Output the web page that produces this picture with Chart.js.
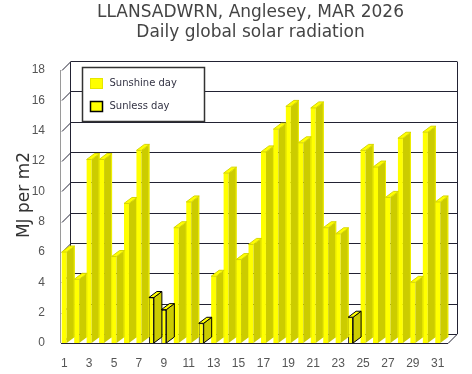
<!DOCTYPE html>
<html>
<head>
<meta charset="utf-8">
<script src="https://cdn.jsdelivr.net/npm/chart.js@4.4.1/dist/chart.umd.min.js"></script>
<style>
  html, body { margin: 0; padding: 0; background: #fff; }
</style>
</head>
<body>
<canvas id="chart" width="472" height="374"></canvas>
<script>
// Tage im März
const days = ['1', '2', '3', '4', '5', '6', '7', '8', '9', '10', '11', '12', '13', '14', '15', '16',
              '17', '18', '19', '20', '21', '22', '23', '24', '25', '26', '27', '28', '29', '30', '31'];
// Tägliche Globalstrahlung in MJ/m2
const radiation = [6.0, 4.2, 12.1, 12.1, 5.7, 9.2, 12.7, 3.0, 2.2, 7.6, 9.3, 1.3, 4.4, 11.2, 5.5, 6.5,
                   12.6, 14.1, 15.6, 13.2, 15.5, 7.6, 7.2, 1.7, 12.7, 11.6, 9.6, 13.5, 4.0, 13.9, 9.3];
// Tage ohne Sonnenschein
const sunlessDays = [8, 9, 12, 24];
const yTicks = [0, 2, 4, 6, 8, 10, 12, 14, 16, 18];
const titleLines = ['LLANSADWRN, Anglesey, MAR 2026', 'Daily global solar radiation'];
const yTitle = 'MJ per m2';

const sunshineData = radiation.map((v, i) => sunlessDays.includes(i + 1) ? null : v);
const sunlessData = radiation.map((v, i) => sunlessDays.includes(i + 1) ? v : null);

const DX = 9, DY = 9;     // Tiefe der Rückwand
const BDX = 8, BDY = 6;   // Tiefe der Balken
const SHIFT = 4;          // Vorderkante gegenüber chartArea

// 3D-Rahmen, Seitenflächen, Titel und Legende
const frame3d = {
    id: 'frame3d',
    beforeDatasetsDraw(chart) {
        const { ctx, chartArea: a, scales: { y } } = chart;
        const L = a.left + SHIFT, R = a.right + SHIFT, B = a.bottom;
        ctx.save();
        ctx.lineWidth = 1;
        ctx.strokeStyle = '#222233';
        yTicks.forEach(v => {
            const py = Math.round(y.getPixelForValue(v)) + 0.5;
            ctx.beginPath();
            ctx.moveTo(L, py);
            ctx.lineTo(L + DX, py - DY);
            ctx.lineTo(R + DX, py - DY);
            ctx.stroke();
        });
        const top = Math.round(y.getPixelForValue(18)) + 0.5 - DY;
        ctx.beginPath();
        ctx.moveTo(L + DX - 0.5, top);
        ctx.lineTo(L + DX - 0.5, B - DY);
        ctx.moveTo(R + DX + 0.5, top);
        ctx.lineTo(R + DX + 0.5, B - DY);
        ctx.stroke();
        // linke Achse vorne
        ctx.strokeStyle = '#9a9a9a';
        ctx.beginPath();
        ctx.moveTo(L - 1.5, Math.round(y.getPixelForValue(18)));
        ctx.lineTo(L - 1.5, B);
        ctx.stroke();
        ctx.restore();
    },
    afterDatasetsDraw(chart) {
        const { ctx, chartArea: a } = chart;
        ctx.save();
        chart.data.datasets.forEach((ds, i) => {
            const meta = chart.getDatasetMeta(i);
            const outlined = ds.borderWidth > 0;
            meta.data.forEach((bar, j) => {
                if (ds.data[j] == null) return;
                const p = bar.getProps(['x', 'y', 'base', 'width'], true);
                const l = p.x - p.width / 2, r = p.x + p.width / 2;
                // Seitenfläche
                ctx.beginPath();
                ctx.moveTo(r, p.base);
                ctx.lineTo(r + BDX, p.base - BDY);
                ctx.lineTo(r + BDX, p.y - BDY);
                ctx.lineTo(r, p.y);
                ctx.closePath();
                ctx.fillStyle = '#cccc00';
                ctx.fill();
                ctx.lineWidth = 1;
                ctx.strokeStyle = outlined ? '#000000' : '#f0f000';
                if (outlined) ctx.stroke();
                else {
                    ctx.beginPath();
                    ctx.moveTo(r + BDX - 0.5, p.base - BDY);
                    ctx.lineTo(r + BDX - 0.5, p.y - BDY);
                    ctx.stroke();
                }
                // Deckfläche
                ctx.beginPath();
                ctx.moveTo(l, p.y);
                ctx.lineTo(l + BDX, p.y - BDY);
                ctx.lineTo(r + BDX, p.y - BDY);
                ctx.lineTo(r, p.y);
                ctx.closePath();
                ctx.fillStyle = '#ffff00';
                ctx.fill();
                ctx.strokeStyle = outlined ? '#000000' : '#d6d600';
                ctx.stroke();
            });
        });
        // Boden vorne
        const L = a.left + SHIFT, R = a.right + SHIFT, B = a.bottom;
        ctx.strokeStyle = '#222233';
        ctx.lineWidth = 1;
        ctx.beginPath();
        ctx.moveTo(L - 1, B + 0.5);
        ctx.lineTo(R, B + 0.5);
        ctx.lineTo(R + DX, B - DY + 0.5);
        ctx.stroke();
        ctx.restore();
    },
    afterDraw(chart) {
        const { ctx, chartArea: a } = chart;
        ctx.save();
        // Titel
        ctx.fillStyle = '#444444';
        ctx.font = '17px "DejaVu Sans", sans-serif';
        ctx.textAlign = 'center';
        ctx.textBaseline = 'alphabetic';
        ctx.fillText(titleLines[0], 250.5, 17);
        ctx.fillText(titleLines[1], 250.5, 37);
        // Achsentitel
        ctx.save();
        ctx.translate(25, 195);
        ctx.rotate(-Math.PI / 2);
        ctx.textBaseline = 'middle';
        ctx.fillStyle = '#333333';
        ctx.fillText(yTitle, 0, 0);
        ctx.restore();
        // Legende
        const bx = a.left + 24.5, by = a.top - 2.5, bw = 122, bh = 54;
        ctx.textAlign = 'left';
        ctx.fillStyle = '#ffffff';
        ctx.fillRect(bx, by, bw, bh);
        ctx.strokeStyle = '#333333';
        ctx.lineWidth = 1.5;
        ctx.strokeRect(bx, by, bw, bh);
        ctx.font = '10px "DejaVu Sans", sans-serif';
        ctx.textBaseline = 'middle';
        chart.data.datasets.forEach((ds, i) => {
            const sy = by + 11 + i * 23;
            ctx.fillStyle = '#ffff00';
            ctx.fillRect(bx + 8, sy, 12, 10);
            ctx.lineWidth = ds.borderWidth > 0 ? 1.5 : 1;
            ctx.strokeStyle = ds.borderWidth > 0 ? '#000000' : '#e6e600';
            ctx.strokeRect(bx + 8, sy, 12, 10);
            ctx.fillStyle = '#333344';
            ctx.fillText(ds.label, bx + 27, sy + 5);
        });
        ctx.restore();
    }
};

new Chart(document.getElementById('chart').getContext('2d'), {
    type: 'bar',
    data: {
        labels: days,
        datasets: [{
            label: 'Sunshine day',
            data: sunshineData,
            backgroundColor: '#ffff00',
            borderWidth: 0,
            grouped: false,
            barPercentage: 0.4,
            categoryPercentage: 1
        }, {
            label: 'Sunless day',
            data: sunlessData,
            backgroundColor: '#ffff00',
            borderColor: '#000000',
            borderWidth: 1,
            grouped: false,
            barPercentage: 0.4,
            categoryPercentage: 1
        }]
    },
    options: {
        responsive: false,
        animation: false,
        layout: { padding: { left: 0, right: 28, top: 70, bottom: 0 } },
        plugins: {
            legend: { display: false },
            tooltip: { enabled: false },
            title: { display: false }
        },
        scales: {
            x: {
                grid: { display: false },
                border: { display: false },
                afterFit: s => { s.height = 31; },
                ticks: {
                    autoSkip: false,
                    maxRotation: 0,
                    padding: 5,
                    color: '#555555',
                    font: { family: '"Liberation Sans", Arial, sans-serif', size: 12 },
                    callback: (v, i) => i % 2 === 0 ? days[i] : ''
                }
            },
            y: {
                min: 0,
                max: 18,
                grid: { display: false },
                border: { display: false },
                afterFit: s => { s.width = 58; },
                ticks: {
                    stepSize: 2,
                    padding: 5,
                    color: '#555555',
                    font: { family: '"Liberation Sans", Arial, sans-serif', size: 12 }
                }
            }
        }
    },
    plugins: [frame3d]
});
</script>
</body>
</html>
